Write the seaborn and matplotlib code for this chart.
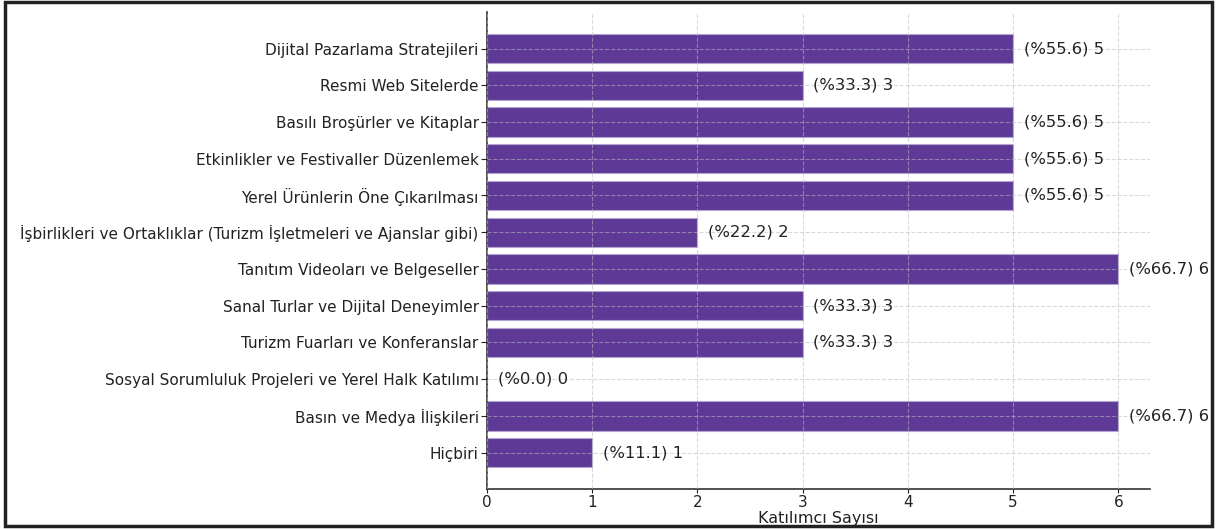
import matplotlib
matplotlib.use('Agg')
import matplotlib.pyplot as plt
import matplotlib.patches as mpatches
import pandas as pd
import seaborn as sns

# Survey answers (top to bottom as drawn)
categories = [
    'Dijital Pazarlama Stratejileri',
    'Resmi Web Sitelerde',
    'Basılı Broşürler ve Kitaplar',
    'Etkinlikler ve Festivaller Düzenlemek',
    'Yerel Ürünlerin Öne Çıkarılması',
    'İşbirlikleri ve Ortaklıklar (Turizm İşletmeleri ve Ajanslar gibi)',
    'Tanıtım Videoları ve Belgeseller',
    'Sanal Turlar ve Dijital Deneyimler',
    'Turizm Fuarları ve Konferanslar',
    'Sosyal Sorumluluk Projeleri ve Yerel Halk Katılımı',
    'Basın ve Medya İlişkileri',
    'Hiçbiri',
]
counts = [5, 3, 5, 5, 5, 2, 6, 3, 3, 0, 6, 1]
percents = [55.6, 33.3, 55.6, 55.6, 55.6, 22.2, 66.7, 33.3, 33.3, 0.0, 66.7, 11.1]

BAR = '#5e3a96'

df = pd.DataFrame({'Kategori': categories, 'Sayı': counts, 'Yüzde': percents})

sns.set_style('white')
plt.rcParams['font.family'] = ['DejaVu Sans']

fig = plt.figure(figsize=(12.16, 5.29), dpi=100)
ax = fig.add_axes([0.4005, 0.0756, 0.5452, 0.9014])

sns.barplot(data=df, x='Sayı', y='Kategori', color=BAR, saturation=1,
            width=0.8, orient='h', ax=ax, edgecolor='#b4a4d2', linewidth=0.8)

ax.set_xlim(0, 6.3)
ax.set_ylim(len(categories) - 0.5 + 0.49, -0.99)
ax.set_xticks(range(0, 7))
ax.grid(True, linestyle='--', color='#bdbdbd', linewidth=0.8)
ax.set_axisbelow(False)
for p in ax.patches:
    p.set_zorder(1)
for gl in ax.get_xgridlines() + ax.get_ygridlines():
    gl.set_zorder(2)
    gl.set_alpha(0.55)

for i, (c, pct) in enumerate(zip(counts, percents)):
    ax.text(c + 0.1, i, f'(%{pct:.1f}) {c}', va='center', ha='left',
            fontsize=11.8, color='#222222')

ax.set_xlabel('Katılımcı Sayısı', fontsize=11.5, color='#222222', labelpad=1)
ax.set_ylabel('')
ax.tick_params(axis='y', labelsize=11, colors='#222222', length=4, pad=2,
               left=True)
ax.tick_params(axis='x', labelsize=11, colors='#222222', length=3, pad=1,
               bottom=True)
ax.spines['top'].set_visible(False)
ax.spines['right'].set_visible(False)
for s in ['left', 'bottom']:
    ax.spines[s].set_color('#333333')
    ax.spines[s].set_linewidth(1.2)

# frame around the whole figure
fig.patches.append(mpatches.Rectangle((0.004, 0.006), 0.993, 0.99,
                                      transform=fig.transFigure, fill=False,
                                      edgecolor='#222222', linewidth=2.5))

fig.savefig('out.png', dpi=100)
